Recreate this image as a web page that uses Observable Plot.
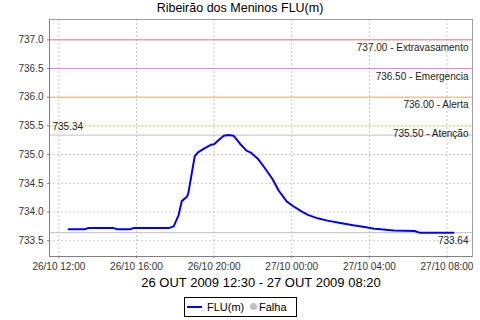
<!DOCTYPE html>
<html><head><meta charset="utf-8">
<script src="https://cdn.jsdelivr.net/npm/d3@7"></script>
<script src="https://cdn.jsdelivr.net/npm/@observablehq/plot@0.6"></script>
<style>
body{margin:0;background:#fff;font-family:"Liberation Sans",Arial,sans-serif;}
#wrap{position:relative;width:480px;height:320px;overflow:hidden;background:#fff;}
#title{height:18px;line-height:17px;text-align:center;font-size:12.5px;color:#000;}
#chart svg{display:block;}
#legend{position:absolute;left:184px;top:297px;width:111px;height:18px;border:1px solid #000;font-size:11px;color:#000;}
#legend .ln{position:absolute;left:2px;top:8px;width:15px;height:2px;background:#0000ff;}
#legend .t1{position:absolute;left:22px;top:2px;line-height:14px;}
#legend .dot{position:absolute;left:65px;top:5px;width:7px;height:7px;border-radius:50%;background:#c0c0c0;}
#legend .t2{position:absolute;left:74px;top:2px;line-height:14px;}
</style></head>
<body>
<div id="wrap">
<div id="title">Ribeirão dos Meninos FLU(m)</div>
<div id="chart"></div>
<div id="legend"><div class="ln"></div><span class="t1">FLU(m)</span><div class="dot"></div><span class="t2">Falha</span></div>
</div>
<script>
const times = [
 "2009-10-26T12:30","2009-10-26T13:20","2009-10-26T13:30","2009-10-26T14:50","2009-10-26T15:00",
 "2009-10-26T15:40","2009-10-26T15:50","2009-10-26T17:40","2009-10-26T17:55","2009-10-26T18:10",
 "2009-10-26T18:20","2009-10-26T18:35","2009-10-26T18:40","2009-10-26T19:00","2009-10-26T19:10",
 "2009-10-26T19:30","2009-10-26T19:50","2009-10-26T20:00","2009-10-26T20:15","2009-10-26T20:30",
 "2009-10-26T20:45","2009-10-26T21:00","2009-10-26T21:20","2009-10-26T21:40","2009-10-26T21:55",
 "2009-10-26T22:15","2009-10-26T22:35","2009-10-26T23:00","2009-10-26T23:20","2009-10-26T23:45",
 "2009-10-27T00:05","2009-10-27T00:30","2009-10-27T00:50","2009-10-27T01:20","2009-10-27T01:50",
 "2009-10-27T02:30","2009-10-27T03:10","2009-10-27T03:45","2009-10-27T04:15","2009-10-27T04:35",
 "2009-10-27T05:15","2009-10-27T06:20","2009-10-27T06:35","2009-10-27T08:20"
];
const levels = [
 733.70,733.70,733.72,733.72,733.70,
 733.70,733.72,733.72,733.75,733.94,
 734.19,734.26,734.32,734.97,735.04,
 735.11,735.17,735.18,735.26,735.33,
 735.34,735.33,735.19,735.07,735.03,
 734.93,734.78,734.58,734.37,734.18,
 734.10,734.01,733.95,733.89,733.85,
 733.81,733.77,733.74,733.71,733.70,
 733.68,733.67,733.64,733.64
];
const thresholdValues = [737.00, 736.50, 736.00, 735.50];
const thresholdLabels = ["737.00 - Extravasamento","736.50 - Emergencia","736.00 - Alerta","735.50 - Atenção"];
const thresholdColors = ["#e88080","#f080f0","#f8b070","#e8e890"];
const maxValue = 735.34;
const lastValue = 733.64;
const yTicks = [733.5,734.0,734.5,735.0,735.5,736.0,736.5,737.0];
const xTickStrings = ["2009-10-26T12:00","2009-10-26T16:00","2009-10-26T20:00","2009-10-27T00:00","2009-10-27T04:00","2009-10-27T08:00"];
const xDomainStrings = ["2009-10-26T11:31","2009-10-27T09:19"];
const yDomain = [733.225, 737.354];
const xLabel = "26 OUT 2009 12:30 - 27 OUT 2009 08:20";

const parse = s => new Date(s + ":00Z");
const data = times.map((t,i) => ({t: parse(t), v: levels[i]}));
const xTicks = xTickStrings.map(parse);
const thresholds = thresholdValues.map((v,i) => ({v, label: thresholdLabels[i], color: thresholdColors[i]}));
const fmt = d3.utcFormat("%d/%m %H:%M");

const chart = Plot.plot({
  width: 480, height: 274,
  marginLeft: 49, marginRight: 8, marginTop: 1, marginBottom: 36,
  style: {fontFamily: "Liberation Sans, Arial, sans-serif", fontSize: "10px", background: "#fff"},
  x: {type: "utc", domain: xDomainStrings.map(parse)},
  y: {domain: yDomain},
  marks: [
    Plot.gridX(xTicks, {stroke: "#c8c8c8", strokeOpacity: 1, strokeDasharray: "2,2"}),
    Plot.gridY(yTicks, {stroke: "#c8c8c8", strokeOpacity: 1, strokeDasharray: "2,2"}),
    Plot.ruleY(thresholds, {y: "v", stroke: "color", strokeWidth: 1}),
    Plot.ruleY([maxValue, lastValue], {stroke: "#c0c0c0", strokeWidth: 1}),
    Plot.text(thresholds, {y: "v", text: "label", frameAnchor: "right", dx: -4, dy: 8, textAnchor: "end", fill: "#222", fontSize: 10, letterSpacing: "0.2px"}),
    Plot.text([maxValue], {y: d => d, text: d => d.toFixed(2), frameAnchor: "left", dx: 3, dy: -8, textAnchor: "start", fill: "#222", fontSize: 10}),
    Plot.text([lastValue], {y: d => d, text: d => d.toFixed(2), frameAnchor: "right", dx: -4, dy: 8, textAnchor: "end", fill: "#222", fontSize: 10}),
    Plot.line(data, {x: "t", y: "v", stroke: "#0000ff", strokeWidth: 2}),
    Plot.frame({stroke: "#a0a0a0"}),
    Plot.axisY(yTicks, {tickSize: 2, tickPadding: 4, tickFormat: d3.format(".1f"), stroke: "#808080", fill: "#333", fontSize: 10, label: null}),
    Plot.axisX(xTicks, {tickSize: 2, tickPadding: 4, tickFormat: fmt, stroke: "#808080", fill: "#333", fontSize: 10, label: null}),
    Plot.ruleX([xDomainStrings.map(parse)[0]], {stroke: "#808080"}),
    Plot.ruleY([yDomain[0]], {stroke: "#808080"}),
    Plot.text([xLabel], {text: d => d, frameAnchor: "bottom", dy: 21, lineAnchor: "top", fontSize: 13, fill: "#000"})
  ]
});
document.getElementById("chart").appendChild(chart);
</script>
</body></html>
